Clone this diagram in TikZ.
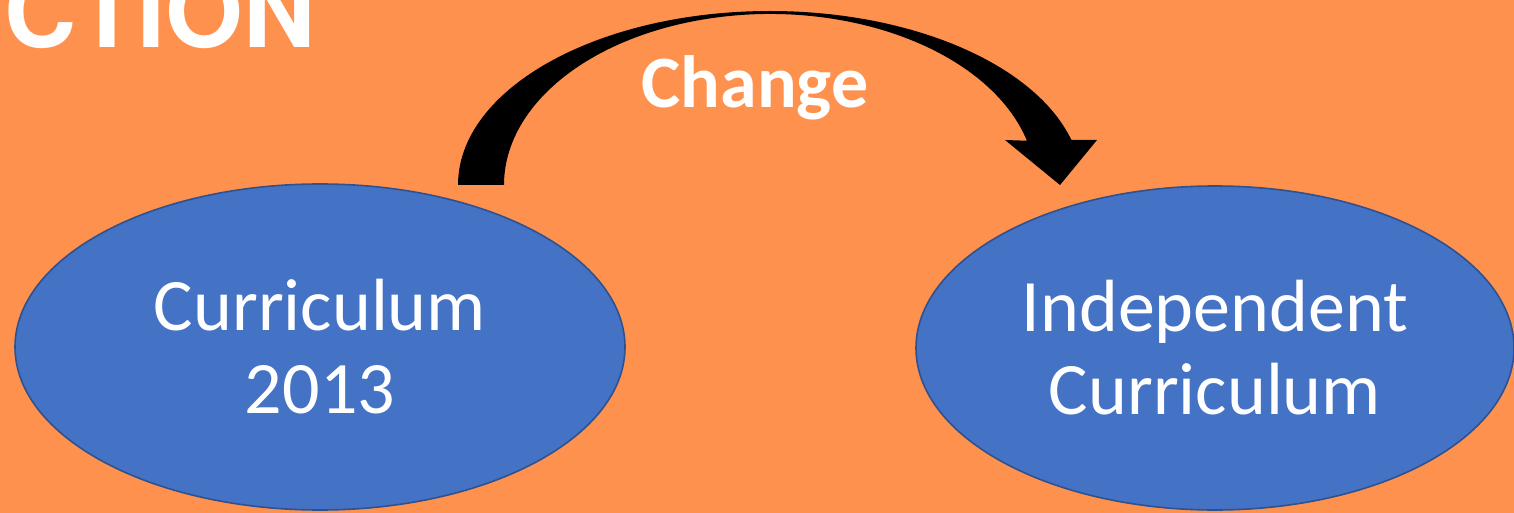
\documentclass[tikz,border=0pt]{standalone}
\usepackage{fontspec}
\setmainfont{Carlito}
\newfontfamily\titlefont{TeX Gyre Heros}
\usetikzlibrary{shapes.geometric}
\definecolor{bgorange}{HTML}{FF914F}
\definecolor{ellblue}{HTML}{4472C4}
\definecolor{ellborder}{HTML}{2F528F}
\tikzset{
  bubble/.style={ellipse, fill=ellblue, draw=ellborder, line width=1.6pt,
    inner sep=0pt, text=white, align=center,
    font=\fontsize{74}{83}\selectfont},
  bigarrow/.style={fill=black},
  changelabel/.style={text=white, font=\fontsize{74}{80}\selectfont\bfseries, inner sep=0pt},
  titletext/.style={text=white, font=\titlefont\fontsize{100}{104}\selectfont\bfseries, inner sep=0pt}
}
\begin{document}
\begin{tikzpicture}[x=1pt,y=-1pt]
\useasboundingbox (0,0) rectangle (1514,513);
\fill[bgorange] (0,0) rectangle (1514,513);
\clip (0,0) rectangle (1514,513);
% title (partly outside the picture, as in the reference)
\node[titletext, anchor=base east] (title) at (316,48) {UCTION};
% ellipses
\node[bubble, minimum width=610pt, minimum height=326pt] (c13) at (320,347)
  {Curriculum\\2013};
\node[bubble, minimum width=598pt, minimum height=324pt] (ic) at (1215,348)
  {Independent\\Curriculum};
% curved arrow
\coordinate (arcc) at (770,185);
\fill[bigarrow] (458,185) arc[start angle=180, end angle=345, x radius=312, y radius=174]
  -- (1097,140) -- (1060,185) -- (1005,140) -- (1026.94,140.74)
  arc[start angle=345, end angle=180, x radius=266, y radius=171] -- cycle;
\node[changelabel, anchor=base] (chg) at (755,108) {Change};
\end{tikzpicture}
\end{document}
